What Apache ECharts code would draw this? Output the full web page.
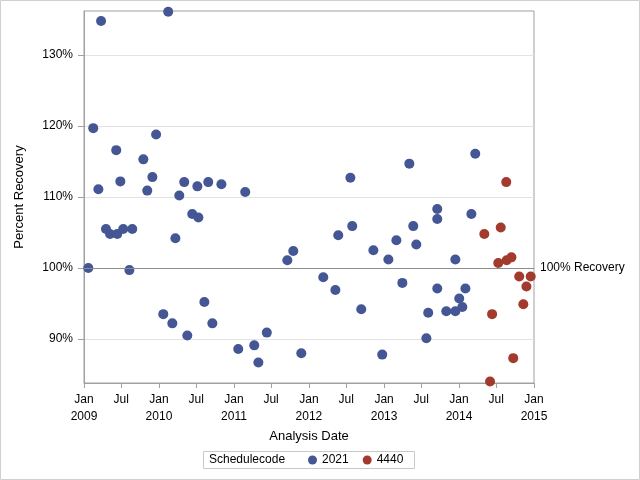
<!DOCTYPE html>
<html>
<head>
<meta charset="utf-8">
<script src="https://cdn.jsdelivr.net/npm/echarts@6/dist/echarts.min.js"></script>
<style>
html,body{margin:0;padding:0;background:#fff;}
#chart{width:640px;height:480px;}
</style>
</head>
<body>
<div id="chart"></div>
<script>
// Schedulecode 2021
const dates2021 = ['2009-01-22','2009-02-15','2009-03-12','2009-03-25','2009-04-18','2009-05-08','2009-06-07','2009-06-12','2009-06-27','2009-07-11','2009-08-10','2009-08-24','2009-10-17','2009-11-05','2009-11-30','2009-12-18','2010-01-22','2010-02-15','2010-03-07','2010-03-22','2010-04-10','2010-05-04','2010-05-19','2010-06-12','2010-07-07','2010-07-12','2010-08-10','2010-08-29','2010-09-18','2010-11-01','2011-01-22','2011-02-25','2011-04-10','2011-04-30','2011-06-10','2011-09-18','2011-10-17','2011-11-25','2012-03-11','2012-05-09','2012-05-23','2012-07-21','2012-07-30','2012-09-12','2012-11-10','2012-12-23','2013-01-22','2013-03-02','2013-03-31','2013-05-04','2013-05-23','2013-06-07','2013-07-26','2013-08-04','2013-09-17','2013-09-17','2013-09-17','2013-10-31','2013-12-14','2013-12-14','2014-01-02','2014-01-17','2014-02-01','2014-03-02','2014-03-21'];
const values2021 = [100.0,119.7,111.1,134.8,105.5,104.8,116.6,104.8,112.2,105.5,99.7,105.5,115.3,110.9,112.8,118.8,93.5,136.1,92.2,104.2,110.2,112.1,90.5,107.6,111.5,107.1,95.2,112.1,92.2,111.8,88.6,110.7,89.1,86.7,90.9,101.1,102.4,88.0,98.7,96.9,104.6,112.7,105.9,94.2,102.5,87.8,101.2,103.9,97.9,114.7,105.9,103.3,90.1,93.7,108.3,106.9,97.1,93.9,101.2,93.9,95.7,94.5,97.1,107.6,116.1];
// Schedulecode 4440
const dates4440 = ['2014-05-04','2014-06-01','2014-06-11','2014-07-11','2014-07-23','2014-08-19','2014-08-21','2014-09-13','2014-09-22','2014-10-21','2014-11-10','2014-11-25','2014-12-16'];
const values4440 = [104.8,84.0,93.5,100.7,105.7,112.1,101.1,101.5,87.3,98.8,94.9,97.4,98.8];

const yTickValues = [90,100,110,120,130];
const referenceValue = 100;
const referenceLabel = '100% Recovery';
const legendTitle = 'Schedulecode';
const seriesNames = ['2021','4440'];

const font = '"Liberation Sans", Arial, sans-serif';
const chart = echarts.init(document.getElementById('chart'), null, {renderer:'canvas'});

function toPairs(ds, vs){ return ds.map((d,i)=>[Date.parse(d+'T00:00:00Z'), vs[i]]); }

const option = {
  useUTC: true,
  animation: false,
  backgroundColor: '#fff',
  grid: {left:84, right:106, top:11, bottom:97, show:true, borderColor:'#a0a0a0', borderWidth:1},
  xAxis: {
    type:'time',
    min: Date.UTC(2009,0,1), max: Date.UTC(2015,0,1),
    splitNumber: 12,
    minInterval: 180*86400000,
    maxInterval: 186*86400000,
    name:'Analysis Date', nameLocation:'middle', nameGap:46,
    nameTextStyle:{fontFamily:font, fontSize:13, color:'#000'},
    axisLine:{lineStyle:{color:'#a0a0a0'}},
    axisTick:{show:true, length:5, lineStyle:{color:'#a0a0a0'}},
    splitLine:{show:false},
    axisLabel:{
      fontFamily:font, fontSize:12, color:'#000', margin:8, lineHeight:17,
      hideOverlap:false, showMinLabel:true, showMaxLabel:true,
      formatter:function(v){
        const d = new Date(v);
        return d.getUTCMonth()===0 ? 'Jan\n'+d.getUTCFullYear() : 'Jul';
      }
    }
  },
  yAxis: {
    type:'value', min:83.8, max:136.2,
    name:'Percent Recovery', nameLocation:'middle', nameGap:58,
    nameTextStyle:{fontFamily:font, fontSize:13, color:'#000'},
    axisLine:{show:true, lineStyle:{color:'#a0a0a0'}},
    axisTick:{show:true, length:6, lineStyle:{color:'#a0a0a0'}, customValues: yTickValues},
    axisLabel:{fontFamily:font, fontSize:12, color:'#000', margin:11, customValues: yTickValues, formatter:'{value}%'},
    splitLine:{show:true, lineStyle:{color:'#e3e3e3'}}
  },
  legend: {
    left:308, top:452, itemWidth:9, itemHeight:9, itemGap:14, padding:[2,0,0,0],
    selectedMode:false,
    textStyle:{fontFamily:font, fontSize:12, color:'#000'},
    data:[{name:seriesNames[0], icon:'circle'},{name:seriesNames[1], icon:'circle'}]
  },
  graphic: [
    {type:'rect', silent:true, shape:{x:0.5,y:0.5,width:639,height:479}, style:{fill:'none', stroke:'#d0d0d0', lineWidth:1}},
    {type:'rect', silent:true, shape:{x:203.5,y:451.5,width:211,height:17}, style:{fill:'none', stroke:'#c8c8c8', lineWidth:1}},
    {type:'text', silent:true, left:209, top:454, style:{text:legendTitle, font:'12px '+font, fill:'#000'}}
  ],
  series: [
    {
      name:seriesNames[0], type:'scatter', symbol:'circle', symbolSize:10,
      itemStyle:{color:'#445694', opacity:1},
      data: toPairs(dates2021, values2021),
      markLine:{
        silent:true, symbol:'none',
        lineStyle:{color:'#8c8c8c', type:'solid', width:1},
        label:{show:true, position:'end', formatter:referenceLabel, fontFamily:font, fontSize:12, color:'#000', distance:6},
        data:[{yAxis:referenceValue}]
      },
      z:3
    },
    {
      name:seriesNames[1], type:'scatter', symbol:'circle', symbolSize:10,
      itemStyle:{color:'#a23a2e', opacity:1},
      data: toPairs(dates4440, values4440),
      z:3
    }
  ]
};
chart.setOption(option);
</script>
</body>
</html>
